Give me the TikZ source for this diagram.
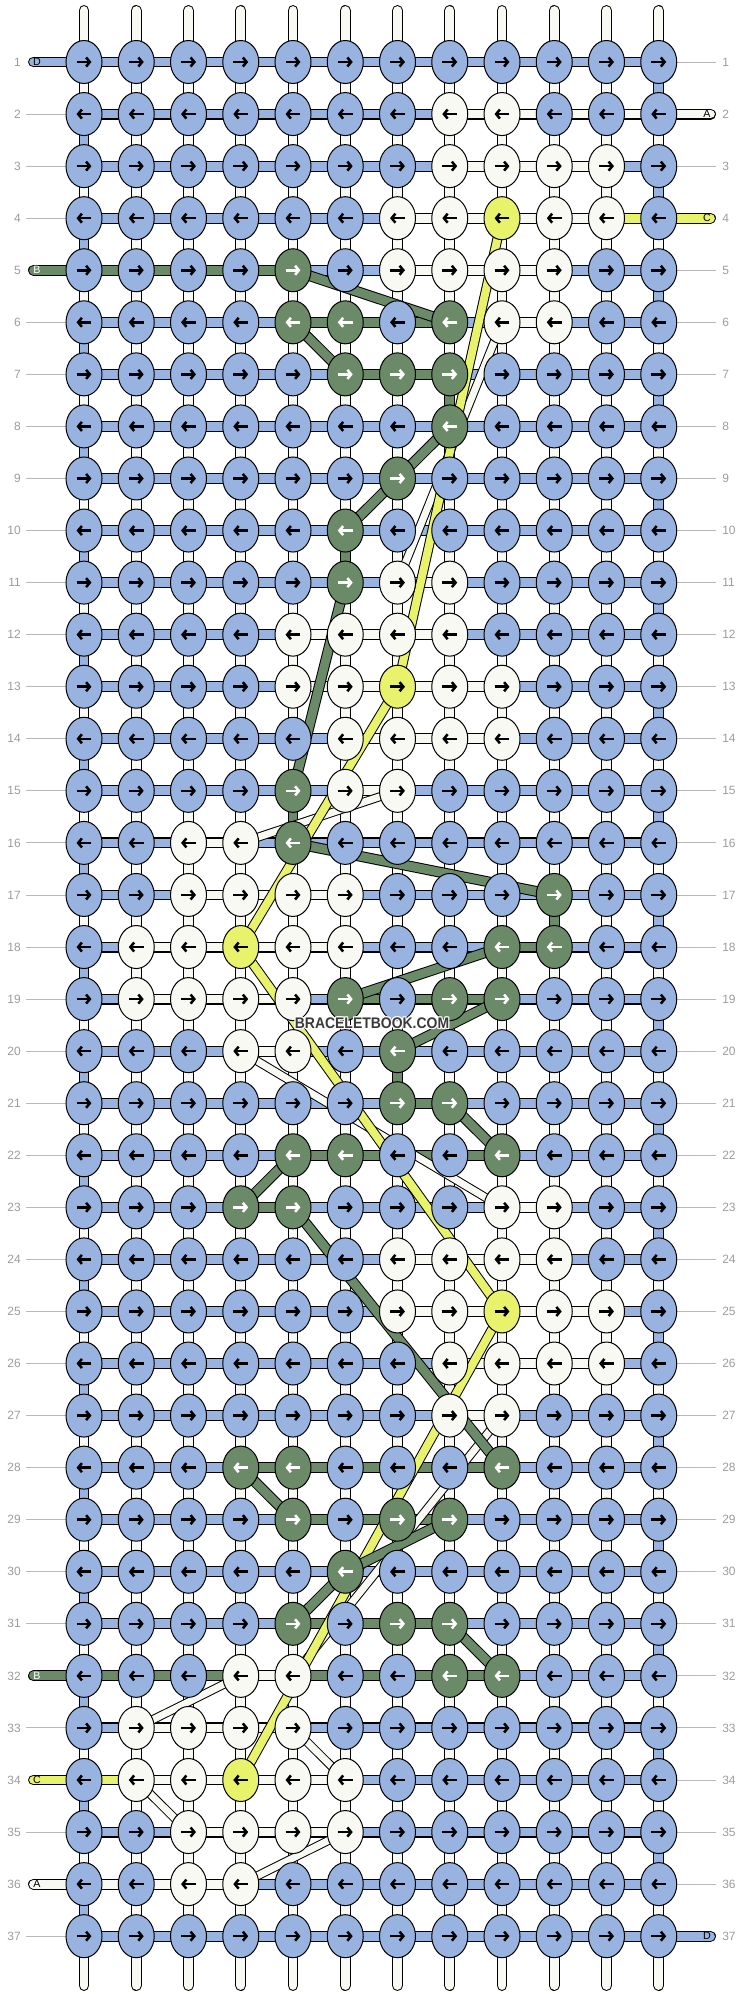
\documentclass[tikz,border=0pt]{standalone}
\usepackage{fontspec}
\setmainfont{Liberation Sans}
\usepackage{xstring}
\usetikzlibrary{shapes.geometric,arrows.meta}
\pgfdeclarelayer{background}
\pgfsetlayers{background,main}
\definecolor{cB}{HTML}{98B3E0}
\definecolor{cW}{HTML}{F8F9F3}
\definecolor{cG}{HTML}{6B8A67}
\definecolor{cY}{HTML}{E8F26B}
\colorlet{aB}{black}
\colorlet{aW}{black}
\colorlet{aY}{black}
\colorlet{aG}{white}
\definecolor{labgray}{HTML}{9C9C9C}
\definecolor{linegray}{HTML}{B8B8B8}
\definecolor{wmgray}{HTML}{3A3A3A}

\begin{document}
\begin{tikzpicture}[x=0.75pt,y=-0.75pt,
  knot/.style={ellipse,draw=black,line width=0.75pt,minimum width=27pt,minimum height=32.25pt,inner sep=0pt},
  arr/.style={line width=1.9pt,-{Straight Barb[length=2.8pt,width=6.8pt]}},
  band/.style={draw=black,double=#1,double distance=6.6pt,line width=0.8pt},
  diag/.style={draw=black,double=#1,line width=0.75pt},
  lab/.style={text=labgray,font=\fontsize{9}{10}\selectfont,inner sep=0pt},
  labline/.style={draw=linegray,line width=0.7pt},
  tag/.style={font=\fontsize{8}{9}\selectfont,inner sep=0pt},
  wm/.style={font=\fontsize{11.5}{12}\selectfont\bfseries,inner sep=0pt}]
\useasboundingbox (0,0) rectangle (740,1996);

% knots, one string per row
\foreach \r/\row in {1/BBBBBBBBBBBB,2/BBBBBBBWWBBB,3/BBBBBBBWWWWB,4/BBBBBBWWYWWB,
  5/BBBBGBWWWWBB,6/BBBBGGBGWWBB,7/BBBBBGGGBBBB,8/BBBBBBBGBBBB,9/BBBBBBGBBBBB,
  10/BBBBBGBBBBBB,11/BBBBBGWWBBBB,12/BBBBWWWWBBBB,13/BBBBWWYWWBBB,14/BBBBBWWWWBBB,
  15/BBBBGWWBBBBB,16/BBWWGBBBBBBB,17/BBWWWWBBBGBB,18/BWWYWWBBGGBB,19/BWWWWGBGGBBB,
  20/BBBWWBGBBBBB,21/BBBBBBGGBBBB,22/BBBBGGBBGBBB,23/BBBGGBBBWWBB,24/BBBBBBWWWWBB,
  25/BBBBBBWWYWWB,26/BBBBBBBWWWWB,27/BBBBBBBWWBBB,28/BBBGGBBBGBBB,29/BBBBGBGGBBBB,
  30/BBBBBGBBBBBB,31/BBBBGBGGBBBB,32/BBBWWBBGGBBB,33/BWWWWBBBBBBB,34/BWWYWWBBBBBB,
  35/BBWWWWBBBBBB,36/BBWWBBBBBBBB,37/BBBBBBBBBBBB} {
\foreach \c in {1,...,12} {
  \StrChar{\row}{\c}[\k]
  \pgfmathsetmacro\x{84+52.25*(\c-1)}
  \pgfmathsetmacro\y{62+52.06*(\r-1)}
  \node[knot,fill=c\k] (k\r-\c) at (\x,\y) {};
  \ifodd\r\relax
    \draw[arr,draw=a\k] ([xshift=-5.6pt]k\r-\c.center) -- ([xshift=5.6pt]k\r-\c.center);
  \else
    \draw[arr,draw=a\k] ([xshift=5.6pt]k\r-\c.center) -- ([xshift=-5.6pt]k\r-\c.center);
  \fi
}
}

% row numbers
\foreach \r in {1,...,37} {
  \pgfmathsetmacro\y{62+52.06*(\r-1)}
  \node[lab,anchor=east] (nl\r) at (21,\y) {\r};
  \node[lab,anchor=west] (nr\r) at (722,\y) {\r};
}

\begin{pgfonlayer}{background}
\foreach \r in {2,3,4,6,7,...,31,33,35,37}
  \draw[labline] ([xshift=4pt]nl\r.east) -- (k\r-1);
\foreach \r in {1,3,5,6,...,36}
  \draw[labline] (k\r-12) -- ([xshift=-4.5pt]nr\r.west);

% warp strings
\foreach \c in {1,...,12} {
  \pgfmathsetmacro\x{84+52.25*(\c-1)}
  \coordinate (wt\c) at (\x,10.5);
  \coordinate (wb\c) at (\x,1985.5);
  \draw[band=cW,line cap=round] (wt\c) -- (k1-\c.center) -- (k37-\c.center) -- (wb\c);
}

% rows
\foreach \r in {1,...,37}
  \draw[band=cB] (k\r-1.center) -- (k\r-12.center);
\foreach \r/\a/\b/\k in {4/11/12/Y,5/1/5/G,6/5/8/G,7/6/8/G,18/9/10/G,19/6/9/G,
  21/7/8/G,22/5/9/G,23/4/5/G,28/4/9/G,29/5/8/G,31/5/8/G,32/1/9/G,34/1/2/Y,
  2/8/12/W,3/8/11/W,4/7/11/W,5/7/10/W,6/9/10/W,11/7/8/W,12/5/8/W,13/5/9/W,
  14/6/9/W,15/6/7/W,16/3/4/W,17/3/6/W,18/2/6/W,19/2/5/W,20/4/5/W,23/9/10/W,
  24/7/10/W,25/7/11/W,26/8/11/W,27/8/9/W,32/4/5/W,33/2/5/W,34/2/6/W,35/3/6/W,36/1/4/W}
  \draw[band=c\k] (k\r-\a.center) -- (k\r-\b.center);

% string ends
\foreach \r/\k in {1/B,5/G,32/G,34/Y,36/W} {
  \pgfmathsetmacro\y{62+52.06*(\r-1)}
  \coordinate (eL\r) at (33.5,\y);
  \draw[band=c\k,line cap=round] (eL\r) -- (k\r-1.center);
}
\foreach \r/\k in {2/W,4/Y,37/B} {
  \pgfmathsetmacro\y{62+52.06*(\r-1)}
  \coordinate (eR\r) at (710.5,\y);
  \draw[band=c\k,line cap=round] (k\r-12.center) -- (eR\r);
}

% turns
\foreach \r in {1,...,36} {
  \pgfmathtruncatemacro\rr{\r+1}
  \ifodd\r\relax
    \draw[band=cB] (k\r-12.center) -- (k\rr-12.center);
  \else
    \draw[band=cB] (k\r-1.center) -- (k\rr-1.center);
  \fi
}
\foreach \c/\r in {8/7,6/10,5/15,10/17,7/20} {
  \pgfmathtruncatemacro\rr{\r+1}
  \draw[band=cG] (k\r-\c.center) -- (k\rr-\c.center);
}

% carried strings
\foreach \c/\r/\cc/\rr in {9/6/7/11,7/15/4/16,4/20/9/23,9/27/5/32,4/32/2/33,5/33/6/34,2/34/3/35,6/35/4/36}
  \draw[diag=cW,double distance=5.2pt] (k\r-\c.center) -- (k\rr-\cc.center);
\foreach \c/\r/\cc/\rr in {9/4/7/13,7/13/4/18,4/18/9/25,9/25/4/34}
  \draw[diag=cY,double distance=6pt] (k\r-\c.center) -- (k\rr-\cc.center);
\foreach \c/\r/\cc/\rr in {5/5/8/6,5/6/6/7,8/8/7/9,7/9/6/10,6/11/5/15,5/16/10/17,9/18/6/19,9/19/7/20,
  8/21/9/22,5/22/4/23,5/23/9/28,4/28/5/29,8/29/6/30,6/30/5/31,8/31/9/32}
  \draw[diag=cG,double distance=6.6pt] (k\r-\c.center) -- (k\rr-\cc.center);
\end{pgfonlayer}

% letters on the string ends
\foreach \r/\t/\tc in {1/D/black,5/B/white,32/B/white,34/C/black,36/A/black} {
  \pgfmathsetmacro\y{62+52.06*(\r-1)}
  \node[tag,text=\tc] (tl\r) at (37,\y) {\t};
}
\foreach \r/\t in {2/A,4/C,37/D} {
  \pgfmathsetmacro\y{62+52.06*(\r-1)}
  \node[tag] (tr\r) at (707,\y) {\t};
}

\foreach \dx/\dy [count=\i] in {-1/0,1/0,0/-1,0/1,-1/-1,1/1,-1/1,1/-1}
  \node[wm,text=white] (wmh\i) at (372+\dx,1023+\dy) {\scalebox{0.91}[1]{BRACELETBOOK.COM}};
\node[wm,text=wmgray] (wm) at (372,1023) {\scalebox{0.91}[1]{BRACELETBOOK.COM}};
\end{tikzpicture}
\end{document}
